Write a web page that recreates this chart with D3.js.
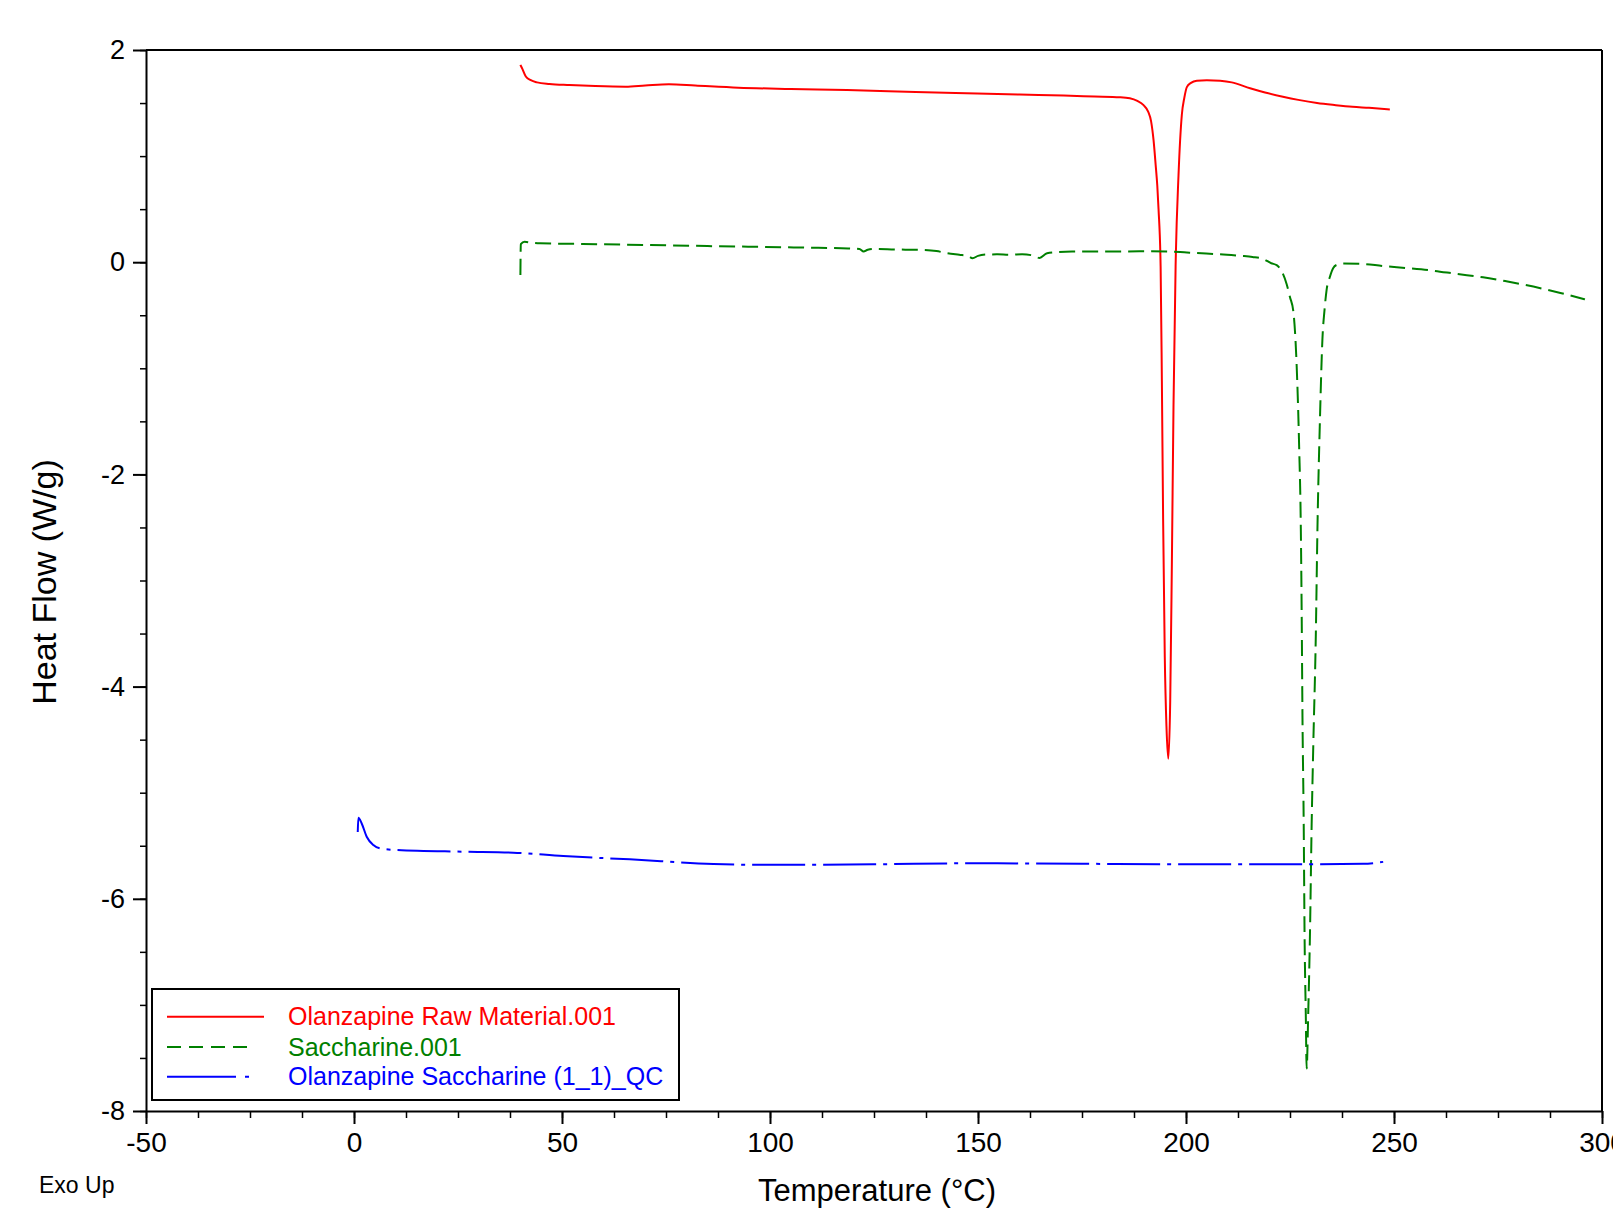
<!DOCTYPE html>
<html>
<head>
<meta charset="utf-8">
<script src="https://cdn.jsdelivr.net/npm/d3@7"></script>
<style>
  html, body { margin: 0; padding: 0; background: #fff; }
  svg { display: block; }
  text { font-family: "Liberation Sans", Arial, sans-serif; }
</style>
</head>
<body>
<svg id="chart" width="1613" height="1210"></svg>
<script>
// ---- Data (Temperature °C, Heat Flow W/g) ----
const olanzapineRaw = [
  [40.0,1.86],[40.5,1.82],[41.3,1.75],[42.5,1.715],[44.0,1.695],[47,1.68],[51.8,1.67],
  [58,1.66],[65.3,1.654],[70,1.665],[75.7,1.677],[82,1.665],[92.4,1.645],[105,1.633],
  [118.5,1.623],[135,1.605],[149.8,1.59],[160,1.58],[170.6,1.57],[178,1.562],[184.1,1.555],
  [186.5,1.545],[188.3,1.52],[189.8,1.48],[190.9,1.42],[191.6,1.33],[192.2,1.15],[192.7,0.92],
  [193.1,0.72],[193.4,0.5],[193.9,-0.04],[194.2,-1.12],[194.5,-2.42],[194.9,-3.72],
  [195.3,-4.37],[195.75,-4.68],[196.2,-4.15],[196.6,-2.85],[197.0,-1.34],[197.5,-0.04],
  [198.2,0.82],[199.0,1.39],[199.6,1.55],[200.2,1.65],[201.2,1.69],[202.6,1.71],
  [205,1.715],[208.2,1.71],[211,1.695],[215.4,1.64],[219,1.60],[223.3,1.56],[227,1.53],
  [231.5,1.50],[236,1.48],[240,1.465],[244,1.455],[249,1.44]
];
const saccharine = [
  [40.0,-0.12],[40.1,0.17],[41.0,0.193],[42.5,0.185],[44.7,0.178],[55,0.172],[70.9,0.162],
  [85,0.152],[94.9,0.146],[108,0.138],[118.8,0.13],[121.5,0.125],[122.5,0.10],[123.5,0.118],
  [125,0.125],[130,0.12],[136.8,0.115],[140,0.105],[142.7,0.084],[145.5,0.07],[147.5,0.06],
  [148.7,0.037],[150,0.06],[152,0.072],[154.7,0.074],[157.5,0.07],[160.6,0.074],[163,0.065],
  [164.8,0.04],[166.6,0.084],[169,0.095],[172.6,0.1],[180,0.1],[190.6,0.103],[198.6,0.095],
  [202.5,0.086],[208,0.075],[213,0.06],[216,0.05],[218.6,0.03],[220.5,-0.01],[221.8,-0.028],
  [223.2,-0.1],[224.2,-0.207],[225.0,-0.33],[225.8,-0.463],[226.6,-0.974],[227.2,-1.74],
  [227.6,-2.505],[227.8,-3.27],[228.0,-4.29],[228.3,-5.31],[228.5,-6.33],[228.8,-7.1],
  [229.0,-7.6],[229.4,-7.05],[229.8,-6.33],[230.2,-5.31],[230.6,-4.55],[231.2,-3.53],
  [231.6,-2.505],[232.2,-1.48],[232.8,-0.72],[233.3,-0.45],[233.8,-0.26],[234.6,-0.137],
  [235.4,-0.055],[236.2,-0.026],[237.8,-0.013],[241.8,-0.015],[247.4,-0.036],[253,-0.055],
  [259.4,-0.08],[265,-0.11],[271.4,-0.142],[277,-0.18],[283.5,-0.23],[290,-0.29],[295.9,-0.35]
];
const olanzapineSaccharine = [
  [0.9,-5.37],[1.05,-5.236],[1.85,-5.29],[3.05,-5.415],[4.65,-5.493],[6.25,-5.525],
  [10.3,-5.54],[26.3,-5.556],[38.3,-5.565],[50.3,-5.597],[66.3,-5.628],[86.4,-5.672],
  [100,-5.68],[125,-5.675],[150,-5.665],[175,-5.67],[200,-5.675],[225,-5.675],
  [242.6,-5.67],[245.5,-5.662],[247.4,-5.652]
];
const seriesNames = ["Olanzapine Raw Material.001", "Saccharine.001", "Olanzapine Saccharine (1_1)_QC"];
const seriesColors = ["#ff0000", "#008000", "#0000ff"];
const seriesDash = [null, "16,7", "53,7,4,7"];
const legendDash = [null, "14,8", "69,9,4,100"];
const xMajorTicks = [-50, 0, 50, 100, 150, 200, 250, 300];
const xMinorTicks = d3.range(-50, 300.1, 12.5);
const yMajorTicks = [-8, -6, -4, -2, 0, 2];
const yMinorTicks = d3.range(-8, 2.01, 0.5);

// ---- Layout ----
const svg = d3.select("#chart");
const x = d3.scaleLinear().domain([-50, 300]).range([146, 1602]);
const y = d3.scaleLinear().domain([-8, 2]).range([1111, 50]);

// frame: top and right border
svg.append("line").attr("x1", 146).attr("x2", 1602).attr("y1", y(2)).attr("y2", y(2))
  .attr("stroke", "#000").attr("stroke-width", 2);
svg.append("line").attr("x1", x(300)).attr("x2", x(300)).attr("y1", y(2)).attr("y2", y(-8))
  .attr("stroke", "#000").attr("stroke-width", 2);

// minor ticks
svg.append("g").attr("transform", `translate(0,${y(-8)})`)
  .call(d3.axisBottom(x).tickValues(xMinorTicks).tickSize(7).tickSizeOuter(0).tickFormat(""))
  .call(g => g.select(".domain").remove())
  .call(g => g.selectAll("line").attr("stroke-width", 1.5));
svg.append("g").attr("transform", `translate(${x(-50)},0)`)
  .call(d3.axisLeft(y).tickValues(yMinorTicks).tickSize(6).tickSizeOuter(0).tickFormat(""))
  .call(g => g.select(".domain").remove())
  .call(g => g.selectAll("line").attr("stroke-width", 1.5));

// major axes
const xAxis = svg.append("g").attr("transform", `translate(0,${y(-8)})`)
  .call(d3.axisBottom(x).tickValues(xMajorTicks).tickSize(13).tickSizeOuter(0).tickPadding(8)
    .tickFormat(d => String(d)));
xAxis.select(".domain").attr("stroke-width", 2);
xAxis.selectAll("line").attr("stroke-width", 2);
xAxis.selectAll("text").attr("font-size", 28).attr("fill", "#000")
  .style("font-family", "'Liberation Sans', Arial, sans-serif");

const yAxis = svg.append("g").attr("transform", `translate(${x(-50)},0)`)
  .call(d3.axisLeft(y).tickValues(yMajorTicks).tickSize(13).tickSizeOuter(0).tickPadding(8)
    .tickFormat(d => String(d)));
yAxis.select(".domain").attr("stroke-width", 2);
yAxis.selectAll("line").attr("stroke-width", 2);
yAxis.selectAll("text").attr("font-size", 27).attr("fill", "#000")
  .style("font-family", "'Liberation Sans', Arial, sans-serif");

// axis titles
svg.append("text").attr("x", 877).attr("y", 1201).attr("text-anchor", "middle")
  .attr("font-size", 31).attr("fill", "#000").text("Temperature (°C)");
svg.append("text").attr("transform", "translate(56,582) rotate(-90)").attr("text-anchor", "middle")
  .attr("font-size", 34).attr("fill", "#000").text("Heat Flow (W/g)");
svg.append("text").attr("x", 39).attr("y", 1193).attr("font-size", 23).attr("fill", "#000").text("Exo Up");

// curves
const line = d3.line().x(d => x(d[0])).y(d => y(d[1])).curve(d3.curveMonotoneX);
const allSeries = [olanzapineRaw, saccharine, olanzapineSaccharine];
allSeries.forEach((s, i) => {
  svg.append("path").datum(s).attr("d", line)
    .attr("fill", "none").attr("stroke", seriesColors[i]).attr("stroke-width", 2)
    .attr("stroke-linejoin", "round")
    .attr("stroke-dasharray", seriesDash[i]);
});

// legend
const lg = svg.append("g");
lg.append("rect").attr("x", 152).attr("y", 989).attr("width", 527).attr("height", 111)
  .attr("fill", "#fff").attr("stroke", "#000").attr("stroke-width", 2);
const rowY = [1016.7, 1047, 1076.7];
seriesNames.forEach((name, i) => {
  lg.append("line").attr("x1", 167).attr("x2", i === 0 ? 264 : (i === 1 ? 247 : 250))
    .attr("y1", rowY[i]).attr("y2", rowY[i])
    .attr("stroke", seriesColors[i]).attr("stroke-width", 2)
    .attr("stroke-dasharray", legendDash[i]);
  lg.append("text").attr("x", 288).attr("y", rowY[i]).attr("dy", "0.35em")
    .attr("font-size", 25).attr("fill", seriesColors[i]).text(name);
});
</script>
</body>
</html>
